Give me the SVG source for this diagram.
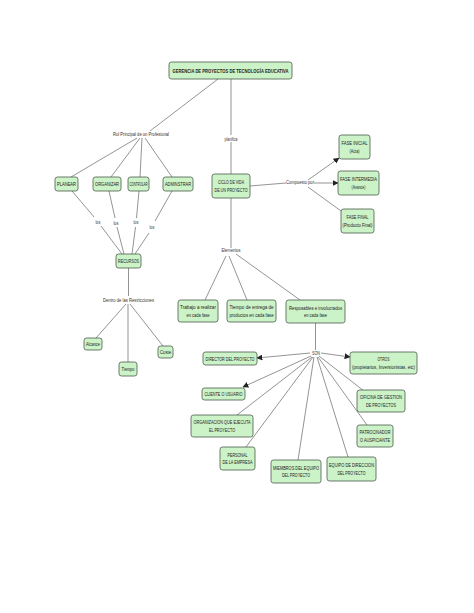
<svg xmlns="http://www.w3.org/2000/svg" width="474" height="613" viewBox="0 0 474 613">
<style>
.n rect{fill:#ccf2c8;stroke:#4a5a4a;stroke-width:0.8}
text{font-family:'Liberation Sans',Arial,sans-serif;font-size:5.6px;fill:#222;text-anchor:middle}
.t text{font-weight:bold}
.c path{stroke:#666;stroke-width:0.7;fill:none}
.l text{fill:#333}
</style>
<defs>
<marker id="ah" viewBox="0 0 10 10" refX="9" refY="5" markerWidth="6" markerHeight="6" markerUnits="userSpaceOnUse" orient="auto">
<path d="M0,0 L10,5 L0,10 z" fill="#222"/>
</marker>
</defs>
<rect width="474" height="613" fill="#fff"/>
<g id="connectors" class="c">
<path d="M218,79 L150,131"/>
<path d="M137,138 L71,177"/>
<path d="M140,138 L111,177"/>
<path d="M142,138 L140,177"/>
<path d="M145,138 L172,177"/>
<path d="M72,191 L94,217"/><path d="M101,226 L122,254"/>
<path d="M109,191 L115,218"/><path d="M117,227 L124,254"/>
<path d="M139,191 L136.5,218"/><path d="M135.5,227 L132,254"/>
<path d="M172,191 L155,221"/><path d="M149,233 L135,254"/>
<path d="M128.5,268 L128.5,296"/>
<path d="M126,304 L96,338"/>
<path d="M128,304 L128,362"/>
<path d="M130,304 L163,346"/>
<path d="M231,79 L231,135"/>
<path d="M231,142 L231,174"/>
<path d="M250,186 L286,183"/>
<path d="M308,180 L339,158" marker-end="url(#ah)"/>
<path d="M314,183 L338,183" marker-end="url(#ah)"/>
<path d="M308,187 L341,211"/>
<path d="M231,198 L231,248"/>
<path d="M226,256 L205,300"/>
<path d="M229,256 L247,300"/>
<path d="M236,254 L300,300"/>
<path d="M315.5,323 L315.5,350"/>
<path d="M310,353 L257,358" marker-end="url(#ah)"/>
<path d="M321,353 L350,357" marker-end="url(#ah)"/>
<path d="M311,356 L243,387" marker-end="url(#ah)"/>
<path d="M312,357 L237,415"/>
<path d="M313,357 L246,447"/>
<path d="M314,357 L298,460"/>
<path d="M317,357 L348,457"/>
<path d="M319,356 L364,391"/>
<path d="M318,357 L367,425"/>
</g>
<g id="labels" class="l">
<text x="141" y="136" textLength="56" lengthAdjust="spacingAndGlyphs">Rol Principal de un Profesional</text>
<text x="231" y="140.5" textLength="13" lengthAdjust="spacingAndGlyphs">planifica</text>
<text x="98" y="224" textLength="5" lengthAdjust="spacingAndGlyphs">los</text>
<text x="116" y="225" textLength="5" lengthAdjust="spacingAndGlyphs">los</text>
<text x="136" y="224" textLength="5" lengthAdjust="spacingAndGlyphs">los</text>
<text x="152" y="229" textLength="5" lengthAdjust="spacingAndGlyphs">los</text>
<text x="128.5" y="301.5" textLength="51" lengthAdjust="spacingAndGlyphs">Dentro de las Restricciones</text>
<text x="300" y="184" textLength="28" lengthAdjust="spacingAndGlyphs">Compuesto por</text>
<text x="231" y="252" textLength="19" lengthAdjust="spacingAndGlyphs">Elementos</text>
<text x="316" y="354.5" textLength="8" lengthAdjust="spacingAndGlyphs">SON</text>
</g>
<g id="title" class="n t"><rect x="169" y="62" width="123" height="17" rx="2.5"/><text x="230.5" y="72.6" textLength="116" lengthAdjust="spacingAndGlyphs">GERENCIA DE PROYECTOS DE TECNOLOGÍA EDUCATIVA</text></g>
<g id="planear" class="n"><rect x="55" y="177" width="23" height="14" rx="2.5"/><text x="66.5" y="186" textLength="19" lengthAdjust="spacingAndGlyphs">PLANEAR</text></g>
<g id="organizar" class="n"><rect x="93" y="177" width="28" height="14" rx="2.5"/><text x="107" y="186" textLength="24" lengthAdjust="spacingAndGlyphs">ORGANIZAR</text></g>
<g id="controlar" class="n"><rect x="128" y="177" width="21" height="14" rx="2.5"/><text x="138.5" y="186" textLength="18" lengthAdjust="spacingAndGlyphs">CONTROLAR</text></g>
<g id="adminstrar" class="n"><rect x="163" y="177" width="30" height="14" rx="2.5"/><text x="178" y="186" textLength="26" lengthAdjust="spacingAndGlyphs">ADMINSTRAR</text></g>
<g id="recursos" class="n"><rect x="116" y="254" width="25" height="14" rx="2.5"/><text x="128.5" y="263" textLength="21" lengthAdjust="spacingAndGlyphs">RECURSOS</text></g>
<g id="alcance" class="n"><rect x="84" y="338" width="18" height="12" rx="2.5"/><text x="93" y="346" textLength="14" lengthAdjust="spacingAndGlyphs">Alcance</text></g>
<g id="tiempo" class="n"><rect x="119" y="362" width="18" height="14" rx="2.5"/><text x="128" y="371" textLength="13" lengthAdjust="spacingAndGlyphs">Tiempo</text></g>
<g id="coste" class="n"><rect x="158" y="346" width="15" height="12" rx="2.5"/><text x="165.5" y="354" textLength="11" lengthAdjust="spacingAndGlyphs">Coste</text></g>
<g id="ciclo" class="n"><rect x="212" y="174" width="38" height="24" rx="2.5"/><text x="231" y="184.2" textLength="26" lengthAdjust="spacingAndGlyphs">CICLO DE VIDA</text><text x="231" y="191.8" textLength="33" lengthAdjust="spacingAndGlyphs">DE UN PROYECTO</text></g>
<g id="fase-inicial" class="n"><rect x="339" y="135" width="31" height="24" rx="2.5"/><text x="354.5" y="145.2" textLength="26" lengthAdjust="spacingAndGlyphs">FASE INICIAL</text><text x="354.5" y="152.8" textLength="10" lengthAdjust="spacingAndGlyphs">(Acta)</text></g>
<g id="fase-intermedia" class="n"><rect x="338" y="171" width="41" height="24" rx="2.5"/><text x="358.5" y="181.2" textLength="37" lengthAdjust="spacingAndGlyphs">FASE INTERMEDIA</text><text x="358.5" y="188.8" textLength="14" lengthAdjust="spacingAndGlyphs">(Avance)</text></g>
<g id="fase-final" class="n"><rect x="341" y="209" width="33" height="24" rx="2.5"/><text x="357.5" y="219.2" textLength="22" lengthAdjust="spacingAndGlyphs">FASE FINAL</text><text x="357.5" y="226.8" textLength="30" lengthAdjust="spacingAndGlyphs">(Producto Final)</text></g>
<g id="trabajo" class="n"><rect x="178" y="300" width="40" height="22" rx="2.5"/><text x="198" y="309.2" textLength="36" lengthAdjust="spacingAndGlyphs">Trabajo a realizar</text><text x="198" y="316.8" textLength="23" lengthAdjust="spacingAndGlyphs">en cada fase</text></g>
<g id="tiempo-entrega" class="n"><rect x="227" y="300" width="49" height="22" rx="2.5"/><text x="251.5" y="309.2" textLength="44" lengthAdjust="spacingAndGlyphs">Tiempo de entrega de</text><text x="251.5" y="316.8" textLength="44" lengthAdjust="spacingAndGlyphs">productos en cada fase</text></g>
<g id="responsables" class="n"><rect x="286" y="300" width="59" height="23" rx="2.5"/><text x="315.5" y="309.5" textLength="53" lengthAdjust="spacingAndGlyphs">Resposables e involucrados</text><text x="315.5" y="317.1" textLength="23" lengthAdjust="spacingAndGlyphs">en cada fase</text></g>
<g id="director" class="n"><rect x="203" y="352" width="54" height="13" rx="2.5"/><text x="230" y="360.5" textLength="49" lengthAdjust="spacingAndGlyphs">DIRECTOR DEL PROYECTO</text></g>
<g id="otros" class="n"><rect x="350" y="352" width="67" height="22" rx="2.5"/><text x="383.5" y="361" textLength="12" lengthAdjust="spacingAndGlyphs">OTROS</text><text x="383.5" y="368.6" textLength="63" lengthAdjust="spacingAndGlyphs">(propietarios, Inversionistas, etc)</text></g>
<g id="cliente" class="n"><rect x="202" y="388" width="43" height="12" rx="2.5"/><text x="223.5" y="396" textLength="38" lengthAdjust="spacingAndGlyphs">CLIENTE O USUARIO</text></g>
<g id="oficina" class="n"><rect x="357" y="390" width="48" height="22" rx="2.5"/><text x="381" y="399.2" textLength="42" lengthAdjust="spacingAndGlyphs">OFICINA DE GESTION</text><text x="381" y="406.8" textLength="30" lengthAdjust="spacingAndGlyphs">DE PROYECTOS</text></g>
<g id="patrocinador" class="n"><rect x="357" y="425" width="36" height="22" rx="2.5"/><text x="375" y="434.2" textLength="31" lengthAdjust="spacingAndGlyphs">PATROCINADOR</text><text x="375" y="441.8" textLength="30" lengthAdjust="spacingAndGlyphs">O AUSPICIANTE</text></g>
<g id="organizacion" class="n"><rect x="191" y="415" width="62" height="22" rx="2.5"/><text x="222" y="424.2" textLength="57" lengthAdjust="spacingAndGlyphs">ORGANIZACION QUE EJECUTA</text><text x="222" y="431.8" textLength="26" lengthAdjust="spacingAndGlyphs">EL PROYECTO</text></g>
<g id="personal" class="n"><rect x="220" y="447" width="35" height="23" rx="2.5"/><text x="237.5" y="456.5" textLength="20" lengthAdjust="spacingAndGlyphs">PERSONAL</text><text x="237.5" y="464.1" textLength="30" lengthAdjust="spacingAndGlyphs">DE LA EMPRESA</text></g>
<g id="miembros" class="n"><rect x="271" y="460" width="50" height="23" rx="2.5"/><text x="296" y="469.5" textLength="46" lengthAdjust="spacingAndGlyphs">MIEMBROS DEL EQUIPO</text><text x="296" y="477.1" textLength="28" lengthAdjust="spacingAndGlyphs">DEL PROYECTO</text></g>
<g id="equipo-direccion" class="n"><rect x="327" y="457" width="49" height="24" rx="2.5"/><text x="351.5" y="467.2" textLength="45" lengthAdjust="spacingAndGlyphs">EQUIPO DE DIRECCION</text><text x="351.5" y="474.8" textLength="28" lengthAdjust="spacingAndGlyphs">DEL PROYECTO</text></g>
</svg>
